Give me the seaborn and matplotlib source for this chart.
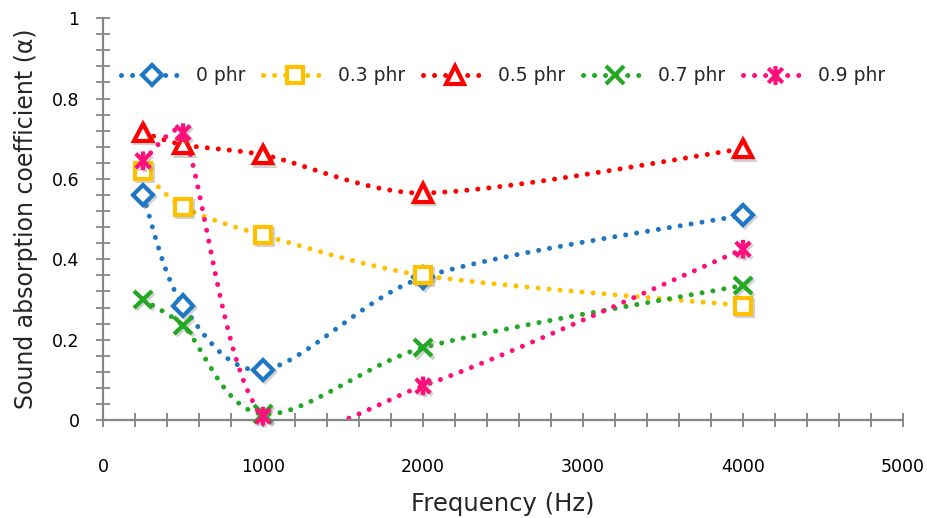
import numpy as np
import pandas as pd
import matplotlib
matplotlib.use("Agg")
import matplotlib.pyplot as plt
import matplotlib.patheffects as pe
from matplotlib.lines import Line2D
from matplotlib.path import Path
from matplotlib.ticker import MultipleLocator
import seaborn as sns

# data
freq = [250, 500, 1000, 2000, 4000]
labels = ["0 phr", "0.3 phr", "0.5 phr", "0.7 phr", "0.9 phr"]
phr_0 = [0.56, 0.285, 0.125, 0.355, 0.51]
phr_03 = [0.62, 0.53, 0.46, 0.36, 0.285]
phr_05 = [0.715, 0.685, 0.66, 0.565, 0.675]
phr_07 = [0.30, 0.235, 0.015, 0.18, 0.335]
phr_09 = [0.645, 0.715, 0.01, 0.085, 0.425]
series = [phr_0, phr_03, phr_05, phr_07, phr_09]
colors = ["#1f77c4", "#ffc000", "#ff0000", "#22a822", "#ff0f7b"]

# asterisk marker (x with a vertical bar)
star = Path([(-1, -1), (1, 1), (-1, 1), (1, -1), (0, -1.3), (0, 1.3)],
            [Path.MOVETO, Path.LINETO] * 3)
markers = ["D", "s", "^", "x", star]
msizes = [10.5, 11.5, 12.5, 12.5, 13.5]

# pixel scale of the plot area, so the smoothing works in screen space
PX_X = 160 / 1000
PX_Y = 402


def smooth(xs, ys, n=50):
    # Excel-like smoothed line: bezier with (next - prev)/6 arms,
    # capped at a third of the segment so short segments don't overshoot
    p = np.column_stack([np.asarray(xs) * PX_X, np.asarray(ys) * PX_Y]).astype(float)
    k = len(p)
    tang = [p[min(i + 1, k - 1)] - p[max(i - 1, 0)] for i in range(k)]
    out = []
    t = np.linspace(0, 1, n)[:, None]
    for i in range(k - 1):
        p1, p2 = p[i], p[i + 1]
        cap = np.linalg.norm(p2 - p1) / 3
        a1 = tang[i] / 6
        a2 = tang[i + 1] / 6
        if np.linalg.norm(a1) > cap:
            a1 = a1 / np.linalg.norm(a1) * cap
        if np.linalg.norm(a2) > cap:
            a2 = a2 / np.linalg.norm(a2) * cap
        c1 = p1 + a1
        c2 = p2 - a2
        seg = ((1 - t) ** 3) * p1 + 3 * ((1 - t) ** 2) * t * c1 \
            + 3 * (1 - t) * t ** 2 * c2 + t ** 3 * p2
        out.append(seg if i == 0 else seg[1:])
    s = np.vstack(out)
    return s[:, 0] / PX_X, s[:, 1] / PX_Y


sns.set_theme(style="white")
plt.rcParams["font.family"] = ["DejaVu Sans"]

fig = plt.figure(figsize=(9.28, 5.18), dpi=100)
ax = fig.add_axes([0.111, 0.189, 0.862, 0.776])

dot = (0, (0.01, 2.2))
lw = 3.6
shadow = [pe.SimpleLineShadow(offset=(1.5, -1.5), shadow_color="gray", alpha=0.35), pe.Normal()]
handles = []
for lab, ys, c, m, ms in zip(labels, series, colors, markers, msizes):
    sx, sy = smooth(freq, ys)
    curve = pd.DataFrame({"x": sx, "y": sy})
    sns.lineplot(data=curve, x="x", y="y", sort=False, ax=ax, color=c,
                 linewidth=lw, linestyle=dot, dash_capstyle="round")
    face = "white" if m in ("D", "s", "^") else "none"
    ax.plot(freq, ys, linestyle="none", marker=m, markersize=ms,
            markerfacecolor=face, markeredgecolor=c, markeredgewidth=3,
            clip_on=False, zorder=4, path_effects=shadow)
    handles.append(Line2D([], [], color=c, linewidth=lw, linestyle=dot,
                          dash_capstyle="round", marker=m, markersize=ms,
                          markerfacecolor=face, markeredgecolor=c,
                          markeredgewidth=3))

ax.set_xlim(0, 5000)
ax.set_ylim(0, 1)
ax.xaxis.set_major_locator(MultipleLocator(1000))
ax.xaxis.set_minor_locator(MultipleLocator(200))
ax.yaxis.set_major_locator(MultipleLocator(0.2))
ax.yaxis.set_minor_locator(MultipleLocator(0.04))
ax.yaxis.set_major_formatter(plt.FuncFormatter(lambda v, _: f"{v:g}"))

for side in ["top", "right"]:
    ax.spines[side].set_visible(False)
for side in ["left", "bottom"]:
    ax.spines[side].set_color("#868686")
    ax.spines[side].set_linewidth(1.6)
ax.tick_params(which="both", direction="inout", color="#868686", width=1.3,
               labelsize=12.5, labelcolor="black", length=10)
ax.tick_params(axis="x", which="major", pad=22)
ax.tick_params(axis="y", which="major", pad=12)
ax.tick_params(axis="x", which="both", bottom=True)
ax.tick_params(axis="y", which="both", left=True)

ax.set_xlabel("Frequency (Hz)", fontsize=17.5, labelpad=12)
ax.set_ylabel("Sound absorption coefficient (α)", fontsize=17, labelpad=10)

ax.legend(handles=handles, labels=labels, loc="center", bbox_to_anchor=(0.5, 0.857),
          ncol=5, frameon=False, fontsize=13.5, handlelength=3.4,
          handletextpad=0.6, columnspacing=0.95)

fig.savefig("out.png", dpi=100)
